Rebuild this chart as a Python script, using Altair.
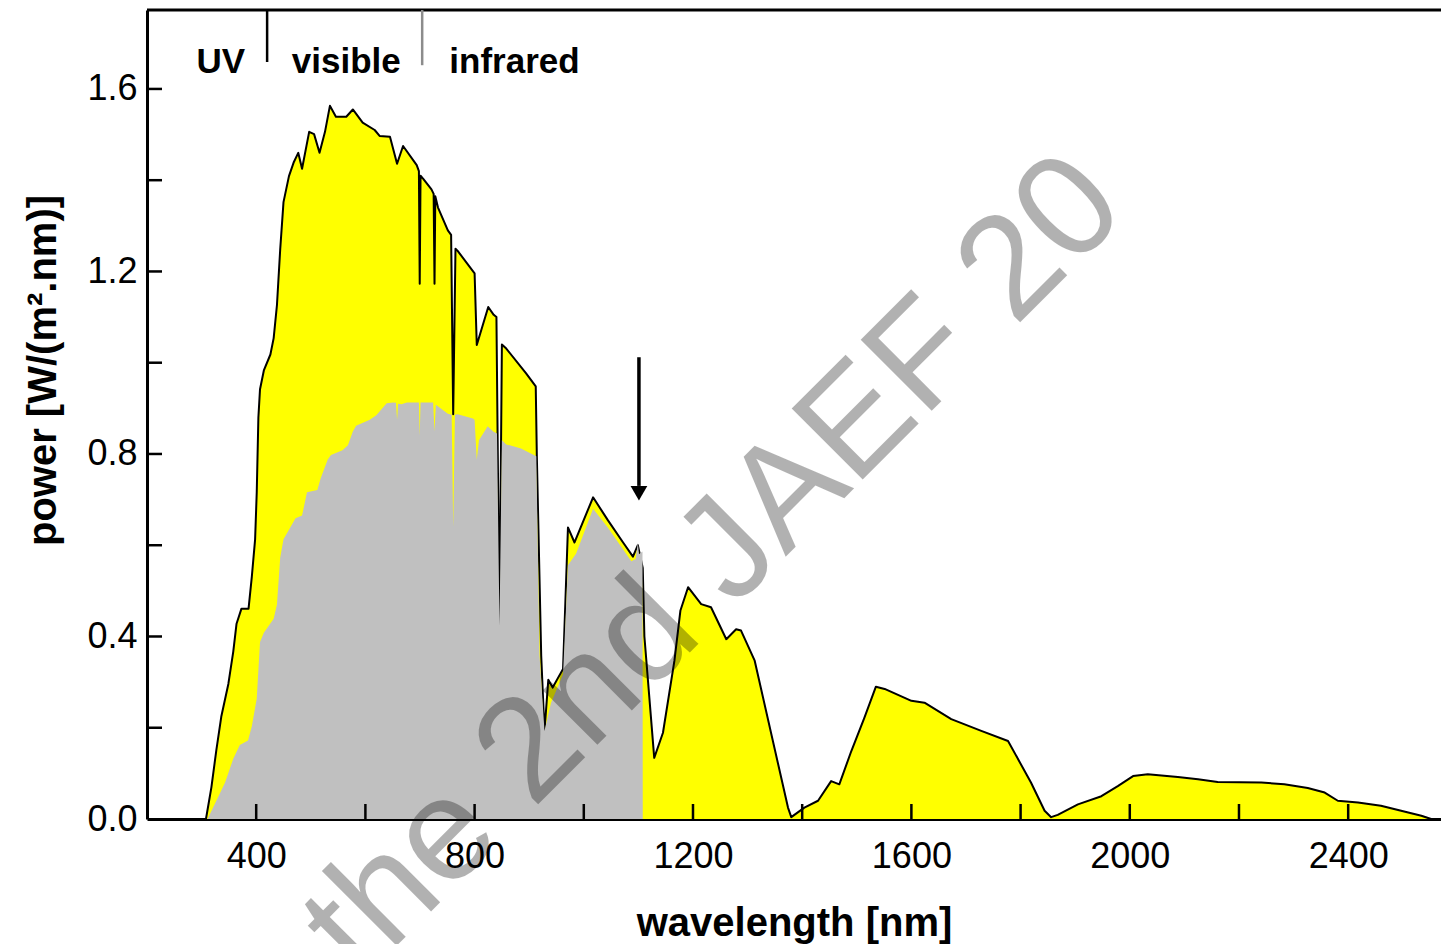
import altair as alt
import pandas as pd

# ---- data ----
# total solar spectrum (yellow area, black outline)
wl_total = [308, 318, 327, 336, 349, 358, 364, 373, 386, 392, 398, 401, 404, 407, 414,
            426, 432, 438, 444, 450, 460, 469, 477, 484, 497, 506, 516, 526, 535, 546,
            565, 577, 595, 617, 626, 645, 658, 669, 694, 698, 699.5, 701, 706, 721, 725,
            726.6, 728, 733, 751, 757, 760.8, 765, 769, 800, 804, 825, 835, 840, 845.6,
            850, 858, 894, 912, 914, 922, 928, 935, 943, 962, 971, 983, 1017, 1044, 1072,
            1090, 1099, 1108, 1111, 1129, 1145, 1166, 1177, 1191, 1215, 1233, 1261, 1279,
            1288, 1313, 1374, 1380, 1404, 1429, 1453, 1468, 1490, 1514, 1535, 1551, 1600,
            1624, 1673, 1728, 1777, 1819, 1844, 1856, 1868, 1905, 1948, 1978, 2006, 2033,
            2088, 2125, 2161, 2241, 2283, 2326, 2357, 2381, 2418, 2460, 2497, 2534, 2552]
pw_total = [0.0, 0.07, 0.151, 0.224, 0.296, 0.367, 0.428, 0.461, 0.461, 0.531, 0.613, 0.716,
            0.88, 0.942, 0.983, 1.018, 1.054, 1.126, 1.249, 1.352, 1.409, 1.44, 1.46, 1.425,
            1.506, 1.501, 1.46, 1.506, 1.563, 1.539, 1.539, 1.555, 1.526, 1.51, 1.497, 1.495,
            1.436, 1.475, 1.433, 1.42, 1.173, 1.41, 1.403, 1.38, 1.37, 1.173, 1.365, 1.34,
            1.29, 1.28, 0.887, 1.25, 1.245, 1.196, 1.039, 1.122, 1.105, 1.10, 0.424, 1.04,
            1.031, 0.977, 0.948, 0.795, 0.358, 0.193, 0.305, 0.288, 0.329, 0.639, 0.606,
            0.705, 0.655, 0.606, 0.575, 0.6, 0.55, 0.40, 0.134, 0.189, 0.347, 0.457, 0.508,
            0.471, 0.464, 0.394, 0.416, 0.413, 0.347, 0.025, 0.004, 0.025, 0.04, 0.083,
            0.076, 0.149, 0.222, 0.29, 0.285, 0.259, 0.255, 0.219, 0.193, 0.171, 0.08,
            0.018, 0.004, 0.009, 0.032, 0.05, 0.072, 0.094, 0.098, 0.092, 0.087, 0.081,
            0.08, 0.076, 0.068, 0.058, 0.04, 0.036, 0.029, 0.018, 0.007, 0.0]

# part usable by silicon (grey area)
wl_si = [311, 343, 358, 370, 385, 392, 401, 407, 414, 432, 438, 444, 450, 460, 472, 484,
         493, 512, 518, 531, 537, 558, 568, 577, 583, 608, 620, 639, 651, 656, 658, 660,
         666, 676, 698, 699.5, 701, 724, 726.6, 729, 751, 758, 760.8, 764, 769, 797, 800,
         804, 808, 824, 834, 841, 845.6, 850, 858, 885, 913, 919, 928, 940, 962, 971, 986,
         1017, 1044, 1087, 1095, 1099, 1101, 1107.5, 1108]
pw_si = [0.0, 0.08, 0.132, 0.162, 0.172, 0.203, 0.264, 0.388, 0.408, 0.439, 0.47, 0.573,
         0.613, 0.634, 0.659, 0.665, 0.716, 0.721, 0.746, 0.788, 0.798, 0.808, 0.819, 0.849,
         0.862, 0.875, 0.885, 0.911, 0.913, 0.912, 0.875, 0.91, 0.909, 0.913, 0.913, 0.84,
         0.913, 0.913, 0.85, 0.908, 0.888, 0.886, 0.64, 0.886, 0.887, 0.878, 0.875, 0.788,
         0.83, 0.861, 0.849, 0.845, 0.424, 0.83, 0.821, 0.812, 0.795, 0.358, 0.193, 0.255,
         0.317, 0.556, 0.582, 0.68, 0.639, 0.565, 0.57, 0.606, 0.58, 0.586, 0.0]

x_tick_labels = [400, 800, 1200, 1600, 2000, 2400]
x_ticks = [400, 600, 800, 1000, 1200, 1400, 1600, 1800, 2000, 2200, 2400]
y_tick_labels = [0.0, 0.4, 0.8, 1.2, 1.6]
y_ticks = [0.2, 0.4, 0.6, 0.8, 1.0, 1.2, 1.4, 1.6]

band_labels = ["UV", "visible", "infrared"]
band_label_wl = [335, 565, 873]
band_label_pw = [1.635, 1.635, 1.635]
band_edges_wl = [420, 704]
band_edges_bottom = [1.659, 1.652]
band_edges_color = ["#000000", "#8c8c8c"]

arrow_wl = 1101
arrow_top = 1.012
arrow_bottom = 0.73
arrow_head = 0.714

watermark = "the 2nd JAEF 20"
watermark_wl = 2000
watermark_pw = 1.329

# ---- chart ----
W, H = 1294, 809
FONT = "Liberation Sans"
xscale = alt.Scale(domain=[200, 2570], nice=False, zero=False)
yscale = alt.Scale(domain=[0, 1.773], nice=False, zero=False)

xaxis = alt.Axis(values=x_tick_labels, format="d", ticks=False, tickSize=0, grid=False,
                 domainColor="black", domainWidth=3,
                 labelFont=FONT, labelFontSize=36, labelColor="black", labelPadding=20,
                 title="wavelength [nm]", titleFont=FONT, titleFontSize=40,
                 titleFontWeight="bold", titleColor="black",
                 titleX=647, titleY=116, titleAlign="center", titleBaseline="alphabetic")
yaxis = alt.Axis(values=y_tick_labels, format=".1f", ticks=False, tickSize=0, grid=False,
                 domainColor="black", domainWidth=3,
                 labelFont=FONT, labelFontSize=36, labelColor="black", labelPadding=10,
                 title="power [W/(m².nm)]", titleFont=FONT, titleFontSize=40,
                 titleFontWeight="bold", titleColor="black", titleAngle=270,
                 titleX=-92, titleY=360, titleAlign="center", titleBaseline="alphabetic")

def X(field="wl"):
    return alt.X(f"{field}:Q", scale=xscale, axis=xaxis, title="wavelength [nm]")

def Y(field="pw"):
    return alt.Y(f"{field}:Q", scale=yscale, axis=yaxis, title="power [W/(m².nm)]")

df_total = pd.DataFrame({"wl": wl_total, "pw": pw_total})
df_si = pd.DataFrame({"wl": wl_si, "pw": pw_si})

yellow = alt.Chart(df_total).mark_area(color="#FFFF00", interpolate="linear").encode(x=X(), y=Y())
outline = alt.Chart(df_total).mark_line(color="black", strokeWidth=2, strokeJoin="round").encode(x=X(), y=Y())
grey = alt.Chart(df_si).mark_area(color="#C0C0C0", interpolate="linear").encode(x=X(), y=Y())

xt = alt.Chart(pd.DataFrame({"wl": x_ticks})).mark_rule(color="black", strokeWidth=2.5).encode(
    x=X(), y=alt.value(H), y2=alt.value(H - 15))
yt = alt.Chart(pd.DataFrame({"pw": y_ticks})).mark_rule(color="black", strokeWidth=2.5).encode(
    y=Y(), x=alt.value(0), x2=alt.value(15))

top_border = alt.Chart(pd.DataFrame({"k": [0]})).mark_rule(color="black", strokeWidth=3).encode(
    x=alt.value(0), x2=alt.value(W), y=alt.value(0))

edges = alt.Chart(pd.DataFrame({"wl": band_edges_wl, "pw": band_edges_bottom,
                                "c": band_edges_color})).mark_rule(strokeWidth=2.5).encode(
    x=X(), y=Y(), y2=alt.value(0), color=alt.Color("c:N", scale=None))

labels = alt.Chart(pd.DataFrame({"wl": band_label_wl, "pw": band_label_pw, "t": band_labels})).mark_text(
    font=FONT, fontSize=35, fontWeight="bold", color="black", align="center", baseline="alphabetic"
).encode(x=X(), y=Y(), text="t:N")

arrow_line = alt.Chart(pd.DataFrame({"wl": [arrow_wl], "pw": [arrow_top], "pw2": [arrow_bottom]})).mark_rule(
    color="black", strokeWidth=3.5).encode(x=X(), y=Y(), y2="pw2:Q")
arrow_tip = alt.Chart(pd.DataFrame({"wl": [arrow_wl], "pw": [arrow_head]})).mark_point(
    shape="triangle-down", filled=True, color="black", size=280, opacity=1).encode(x=X(), y=Y())

wm = alt.Chart(pd.DataFrame({"wl": [watermark_wl], "pw": [watermark_pw], "t": [watermark]})).mark_text(
    font=FONT, fontSize=146, angle=315, align="right", baseline="alphabetic",
    color="black", opacity=0.3).encode(x=X(), y=Y(), text="t:N")

chart = alt.layer(yellow, outline, grey, xt, yt, top_border, edges, labels,
                  arrow_line, arrow_tip, wm).properties(
    width=W, height=H,
    padding={"left": 147, "top": 10, "right": 0, "bottom": 125},
    autosize=alt.AutoSizeParams(type="none"),
    background="white",
).configure_view(stroke=None)

chart.save("out.html", embed_options={"renderer": "svg", "actions": False})
